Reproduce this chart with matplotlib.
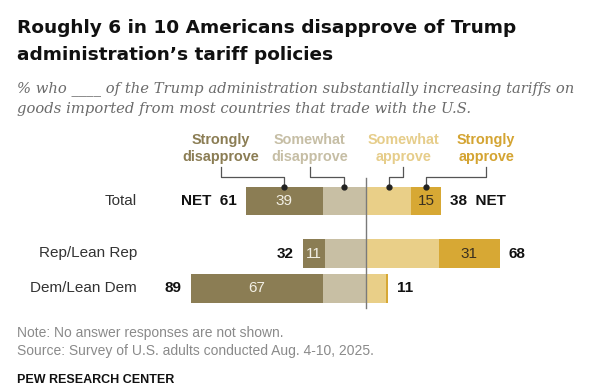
import matplotlib.pyplot as plt
import numpy as np

plt.rcParams['font.family'] = ['Liberation Sans', 'DejaVu Sans']

groups = ['Total', 'Rep/Lean Rep', 'Dem/Lean Dem']
strongly_dis = np.array([39, 11, 67])
somewhat_dis = np.array([22, 21, 22])
somewhat_app = np.array([23, 37, 10])
strongly_app = np.array([15, 31, 1])
net_dis = np.array([61, 32, 89])
net_app = np.array([38, 68, 11])

headers = [('Strongly', 'disapprove'), ('Somewhat', 'disapprove'),
           ('Somewhat', 'approve'), ('Strongly', 'approve')]
colors = ['#8b7d54', '#c8bfa4', '#e9cf88', '#d7a834']
head_colors = ['#8b7d54', '#c6bea5', '#e6cd8a', '#d4a432']

# layout (x in percent, y in pixels from top)
row_y = [201, 253.5, 288.5]
bar_h = 28.5
px_per_pct = 1.97
zero_px = 366

fig = plt.figure(figsize=(6, 3.9), dpi=100)
ax = fig.add_axes([0, 0, 1, 1])
ax.set_xlim(-zero_px / px_per_pct, (600 - zero_px) / px_per_pct)
ax.set_ylim(390, 0)
ax.axis('off')

def fx(x):
    return x / 600

def fy(y):
    return 1 - y / 390

# title / subtitle
fig.text(fx(17), fy(33), 'Roughly 6 in 10 Americans disapprove of Trump',
         fontsize=13.3, family='DejaVu Sans', fontweight='bold', color='#111111', va='baseline')
fig.text(fx(17), fy(60), 'administration\u2019s tariff policies',
         fontsize=13.3, family='DejaVu Sans', fontweight='bold', color='#111111', va='baseline')
fig.text(fx(17), fy(92), '% who ____ of the Trump administration substantially increasing tariffs on',
         fontsize=10.6, family='DejaVu Serif', style='italic', color='#6b6b6b', va='baseline')
fig.text(fx(17), fy(113), 'goods imported from most countries that trade with the U.S.',
         fontsize=10.6, family='DejaVu Serif', style='italic', color='#6b6b6b', va='baseline')

# bars
left_sd = -(strongly_dis + somewhat_dis)
ax.barh(row_y, strongly_dis, left=left_sd, height=bar_h, color=colors[0])
ax.barh(row_y, somewhat_dis, left=-somewhat_dis, height=bar_h, color=colors[1])
ax.barh(row_y, somewhat_app, left=0, height=bar_h, color=colors[2])
ax.barh(row_y, strongly_app, left=somewhat_app, height=bar_h, color=colors[3])

ax.plot([0, 0], [178, 308], color='#7a7a7a', lw=1)

for i, y in enumerate(row_y):
    ax.text(-185.8 + 137 / px_per_pct, y, groups[i], ha='right', va='center',
            fontsize=11, color='#333333')
    if strongly_dis[i] >= 5:
        ax.text(left_sd[i] + strongly_dis[i] / 2, y, str(strongly_dis[i]),
                ha='center', va='center', fontsize=11, color='#f2efe4')
    if strongly_app[i] >= 5:
        ax.text(somewhat_app[i] + strongly_app[i] / 2, y, str(strongly_app[i]),
                ha='center', va='center', fontsize=11, color='#3a3020')
    ltxt = 'NET  %d' % net_dis[i] if i == 0 else str(net_dis[i])
    rtxt = '%d  NET' % net_app[i] if i == 0 else str(net_app[i])
    ax.text(-net_dis[i] - 4.5, y, ltxt, ha='right', va='center',
            fontsize=11, fontweight='bold', color='#111111')
    ax.text(net_app[i] + 4.5, y, rtxt, ha='left', va='center',
            fontsize=11, fontweight='bold', color='#111111')

# column headers with leader lines
head_x = [-73.5, -28.5, 19, 61]
dot_x = [-(somewhat_dis[0] + strongly_dis[0] / 2), -somewhat_dis[0] / 2,
         somewhat_app[0] / 2, somewhat_app[0] + strongly_app[0] / 2]
bar_top = row_y[0] - bar_h / 2
for k in range(4):
    ax.text(head_x[k], 144, headers[k][0], ha='center', va='baseline',
            fontsize=10.4, fontweight='bold', color=head_colors[k])
    ax.text(head_x[k], 161, headers[k][1], ha='center', va='baseline',
            fontsize=10.4, fontweight='bold', color=head_colors[k])
    ax.plot([head_x[k], head_x[k], dot_x[k], dot_x[k]],
            [167, 177, 177, bar_top], color='#555555', lw=0.9)
    ax.plot(dot_x[k], bar_top, 'o', color='#222222', markersize=3.5)

# footer
fig.text(fx(17), fy(337), 'Note: No answer responses are not shown.',
         fontsize=10, color='#8a8a8a', va='baseline')
fig.text(fx(17), fy(355), 'Source: Survey of U.S. adults conducted Aug. 4-10, 2025.',
         fontsize=10, color='#8a8a8a', va='baseline')
fig.text(fx(17), fy(383), 'PEW RESEARCH CENTER',
         fontsize=9.0, fontweight='bold', color='#111111', va='baseline')

fig.savefig('out.png', dpi=100)
